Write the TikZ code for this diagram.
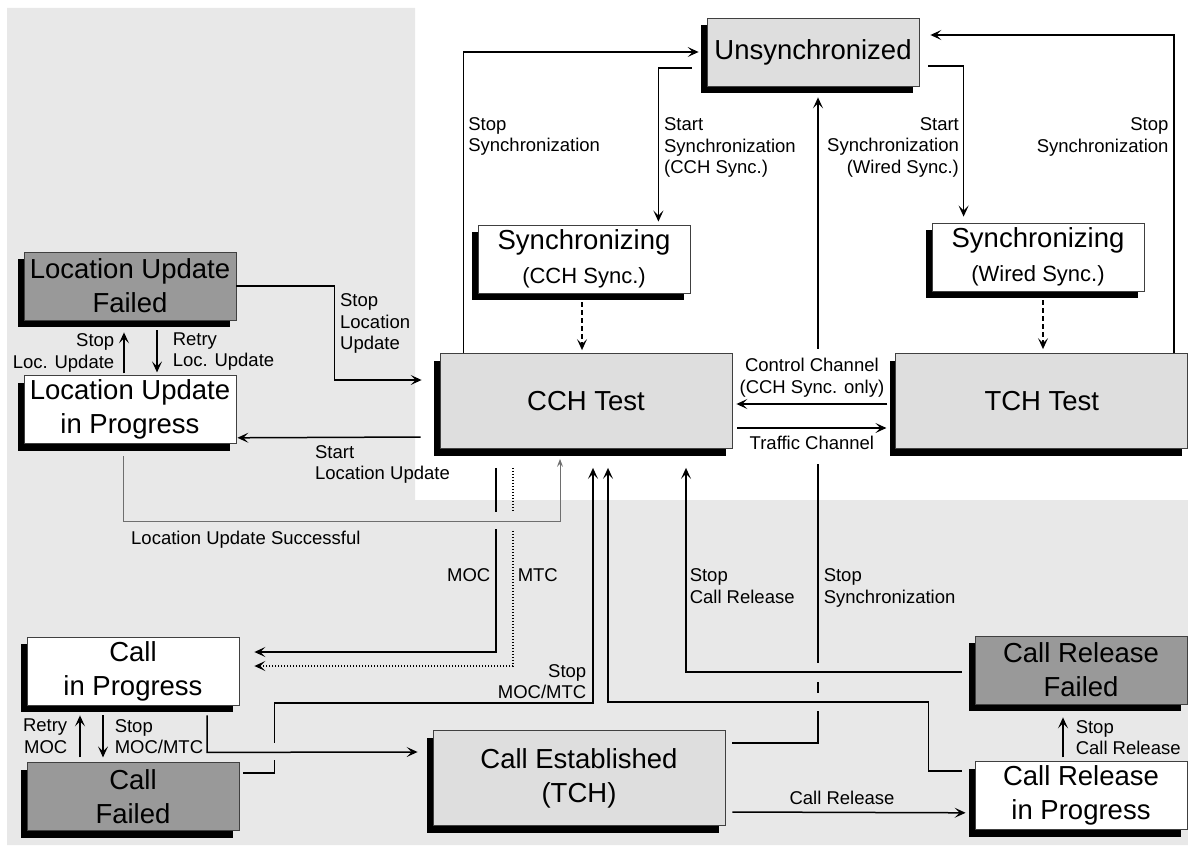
\documentclass[tikz,border=0pt]{standalone}
\usepackage{fontspec}
\setmainfont{Liberation Sans}
\usetikzlibrary{positioning,arrows.meta,calc,shadows}

\definecolor{panelgray}{HTML}{E8E8E8}
\definecolor{testgray}{HTML}{DEDEDE}
\definecolor{failgray}{HTML}{999999}
\definecolor{framegray}{HTML}{404040}
\definecolor{okline}{HTML}{6E6E6E}

\newcommand{\statefont}{\fontsize{27.5}{34}\selectfont}
\newcommand{\syncfont}{\fontsize{22}{26}\selectfont}
\newcommand{\signalfont}{\fontsize{18.5}{21.5}\selectfont}

\begin{document}
\begin{tikzpicture}[
    x=1pt, y=-1pt,
    statebox/.style={rectangle, draw=framegray, line width=0.8pt, fill=white, minimum width=212pt, minimum height=68pt, inner sep=0pt, align=center, font=\statefont, drop shadow={shadow xshift=-6pt, shadow yshift=-7pt, opacity=1, fill=black}},
    idlebox/.style={statebox, fill=testgray},
    testbox/.style={statebox, fill=testgray, minimum width=292pt, minimum height=95pt},
    failbox/.style={statebox, fill=failgray},
    arrow/.style={-{Stealth[length=11pt, width=10pt, inset=5pt]}, line width=1.5pt},
    okarrow/.style={-{Stealth[length=8pt, width=6pt, inset=3pt]}, line width=1pt, draw=okline},
    signal/.style={font=\signalfont, align=left, inner sep=0pt},
    linegap/.style={draw=#1, line width=5pt}
]

% Shaded panel behind the location update and call states
\fill[panelgray] (7,8) -- (415,8) -- (415,500) -- (1188,500) -- (1188,845) -- (7,845) -- cycle;
\useasboundingbox (0,0) rectangle (1188,848);

% Synchronisation states
\node[idlebox] (unsync) at (813,52) {Unsynchronized};
\node[statebox] (synccch) at (584,259) {Synchronizing\\{\syncfont (CCH Sync.)}};
\node[statebox] (syncwired) at (1038,257) {Synchronizing\\{\syncfont (Wired Sync.)}};
\node[testbox] (cchtest) at (586,401) {CCH Test};
\node[testbox, right=163pt of cchtest] (tchtest) {TCH Test};

% Location update states
\node[failbox] (lufail) at (130,286) {Location Update\\Failed};
\node[statebox, below=55pt of lufail] (luprog) {Location Update\\in Progress};

% Call states
\node[statebox] (callprog) at (133,671) {Call\\in Progress};
\node[failbox, below=57pt of callprog] (callfail) {Call\\Failed};
\node[testbox] (callest) at (579,778) {Call Established\\(TCH)};
\node[failbox] (relfail) at (1081,670) {Call Release\\Failed};
\node[statebox, below=57pt of relfail] (relprog) {Call Release\\in Progress};

% Bends shared by crossing lines
\coordinate (estout) at ($(callest.east)+(7,-35)$);
\coordinate (estup) at ($(unsync.south)+(5,11)$);
\coordinate (lubend) at ($(luprog.south)+(-7,77)$);
\coordinate (moctop) at ($(cchtest.south)+(-90,19)$);
\coordinate (mtctop) at ($(cchtest.south)+(-73,19)$);
\coordinate (cpbend) at ($(callprog.south)+(74,47)$);
\coordinate (cfbend) at ($(callfail.east)+(35,-24)$);
\coordinate (relfailout) at ($(relfail.west)+(-13,2)$);
\coordinate (relprogbend) at ($(cchtest.south)+(22,253)$);

% Synchronisation
\draw[arrow] ($(cchtest.north west)+(24,0)$) |- node[signal, pos=0.36, right=4pt] {Stop\\Synchronization} ($(unsync.west)+(-8,0)$);
\draw[arrow] ($(unsync.west)+(-15,16)$) -| node[signal, pos=0.76, right=5pt] {Start\\Synchronization\\(CCH Sync.)} ($(synccch.north east)+(-32,-3)$);
\draw[arrow] ($(unsync.east)+(9,14)$) -| node[signal, align=right, pos=0.77, left=4pt] {Start\\Synchronization\\(Wired Sync.)} ($(syncwired.north west)+(32,-6)$);
\draw[arrow] ($(tchtest.north east)+(-14,0)$) |- node[signal, align=right, pos=0.34, left=5pt] {Stop\\Synchronization} ($(unsync.east)+(11,-17)$);
\draw[arrow, dash pattern=on 5pt off 3pt] ($(synccch.south)+(-2,9)$) -- ($(synccch.south |- cchtest.north)+(-2,-3)$);
\draw[arrow, dash pattern=on 5pt off 3pt] ($(syncwired.south)+(5,9)$) -- ($(syncwired.south |- tchtest.north)+(5,-4)$);

% Location update
\draw[arrow] (lufail.east) -- ++(98,0) |- node[signal, pos=0.2, right=5pt] {Stop\\Location\\Update} ($(cchtest.west)+(-18,-21)$);
\draw[arrow] ($(cchtest.west)+(-19,36)$) -- node[signal, pos=0.58, anchor=north west, yshift=-7pt] {Start\\Location Update} ($(luprog.east)+(1,28)$);
\draw[arrow] ($(luprog.north)+(-6,-2)$) -- node[signal, align=right, left=9pt] {Stop\\Loc. Update} ($(lufail.south)+(-6,12)$);
\draw[arrow] ($(lufail.south)+(27,10)$) -- node[signal, right=15pt] {Retry\\Loc. Update} ($(luprog.north)+(27,-3)$);

% Calls
\draw[arrow] (moctop) |- node[signal, align=right, pos=0.29, left=5pt] {MOC} ($(callprog.east)+(15,-19)$);
\draw[arrow, dash pattern=on 1.5pt off 1.5pt] (mtctop) |- node[signal, pos=0.27, right=4pt] {MTC} ($(callprog.east)+(15,-5)$);
\draw[arrow] ($(callfail.north)+(-53,-5)$) -- node[signal, align=right, left=12pt] {Retry\\MOC} ($(callprog.south)+(-53,10)$);
\draw[arrow] ($(callprog.south)+(-30,10)$) -- node[signal, right=11pt] {Stop\\MOC/MTC} ($(callfail.north)+(-30,-5)$);
\draw[arrow] ($(callfail.east)+(4,-24)$) -- (cfbend) |- ($(cchtest.south)+(7,254)$) -- node[signal, align=right, pos=0.09, left=6pt] {Stop\\MOC/MTC} ($(cchtest.south)+(7,19)$);
\draw[arrow] (estout) -| node[signal, pos=0.62, right=5pt] {Stop\\Synchronization} (estup);

% Breaks where lines cross
\draw[linegap=white] ($(estup |- cchtest.north)+(0,-4)$) -- ($(estup |- cchtest.south)+(0,15)$);
\draw[linegap=panelgray] ($(estup |- relfailout)+(0,-9)$) -- ($(estup |- relfailout)+(0,10)$);
\draw[linegap=panelgray] ($(estup |- relprogbend)+(0,-9)$) -- ($(estup |- relprogbend)+(0,9)$);
\draw[linegap=panelgray] ($(moctop |- lubend)+(0,-9)$) -- ($(moctop |- lubend)+(0,8)$);
\draw[linegap=panelgray] ($(mtctop |- lubend)+(0,-9)$) -- ($(mtctop |- lubend)+(0,8)$);
\draw[linegap=panelgray] ($(cfbend |- cpbend)+(0,-9)$) -- ($(cfbend |- cpbend)+(0,8)$);

% Channels between the two test states
\draw[arrow] ($(tchtest.west)+(-8,3)$) -- node[signal, align=center, above=6pt] {Control Channel\\(CCH Sync. only)} ($(cchtest.east)+(4,3)$);
\draw[arrow] ($(cchtest.east)+(5,27)$) -- node[signal, below=7pt] {Traffic Channel} ($(tchtest.west)+(-9,27)$);

% Lines passing over the breaks
\draw[okarrow] ($(luprog.south)+(-7,12)$) -- (lubend) -| ($(cchtest.south)+(-26,10)$);
\node[signal, anchor=north west] (luok) at ($(lubend)+(8,10)$) {Location Update Successful};
\draw[arrow] ($(callprog.south)+(74,10)$) -- (cpbend) -- ($(callest.west)+(-15,-26)$);
\draw[arrow] (relfailout) -| node[signal, pos=0.71, right=3pt] {Stop\\Call Release} ($(cchtest.south)+(100,19)$);
\draw[arrow] ($(relprog.west)+(-13,-25)$) -- ++(-33,0) |- (relprogbend) -- ($(cchtest.south)+(22,19)$);

% Call release
\draw[arrow] ($(callest.east)+(7,34)$) -- node[signal, pos=0.47, above=7pt] {Call Release} ($(relprog.west)+(-9,17)$);
\draw[arrow] ($(relprog.north)+(-18,-4)$) -- node[signal, right=12pt] {Stop\\Call Release} ($(relfail.south)+(-18,13)$);

\end{tikzpicture}
\end{document}
